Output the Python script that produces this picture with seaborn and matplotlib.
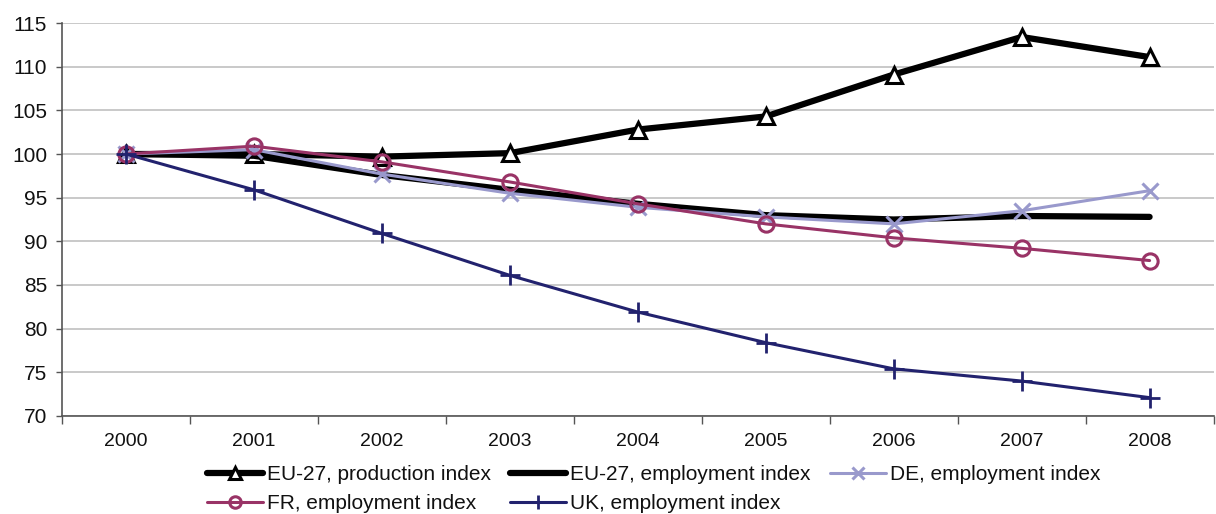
import matplotlib
matplotlib.use("Agg")
import matplotlib.pyplot as plt
import seaborn as sns
import pandas as pd
from matplotlib.ticker import FixedLocator, NullFormatter

years = ["2000", "2001", "2002", "2003", "2004", "2005", "2006", "2007", "2008"]
eu27_production = [100.0, 100.0, 99.7, 100.1, 102.8, 104.3, 109.1, 113.4, 111.1]
eu27_employment = [100.0, 99.8, 97.6, 95.9, 94.3, 93.0, 92.5, 92.9, 92.8]
de_employment = [100.0, 100.5, 97.7, 95.5, 93.9, 92.8, 92.0, 93.5, 95.8]
fr_employment = [100.0, 100.9, 99.1, 96.8, 94.3, 92.0, 90.4, 89.2, 87.8]
uk_employment = [100.0, 95.9, 90.9, 86.1, 81.9, 78.4, 75.4, 74.0, 72.1]

labels = [
    "EU-27, production index",
    "EU-27, employment index",
    "DE, employment index",
    "FR, employment index",
    "UK, employment index",
]

sns.set_theme(style="white")
plt.rcParams["font.family"] = ["Liberation Sans", "DejaVu Sans"]

fig = plt.figure(figsize=(12.16, 5.14), dpi=100)
ax = fig.add_axes([0.051, 0.1907, 0.947, 0.7645])

pos = list(range(len(years)))
series = [
    (labels[0], eu27_production, dict(color="black", lw=4.5, marker="^", ms=11,
                                       mfc="white", mec="black", mew=2.2)),
    (labels[1], eu27_employment, dict(color="black", lw=4.5, marker=None)),
    (labels[2], de_employment, dict(color="#9999CC", lw=2.2, marker="x", ms=11,
                                    mec="#9999CC", mew=2.2)),
    (labels[3], fr_employment, dict(color="#993366", lw=2.2, marker="o", ms=11,
                                    mfc="none", mec="#993366", mew=2.2)),
    (labels[4], uk_employment, dict(color="#22226E", lw=2.2, marker="+", ms=14,
                                    mec="#22226E", mew=2.0)),
]

for name, vals, st in series:
    df = pd.DataFrame({"x": pos, "y": vals})
    kw = dict(color=st["color"], linewidth=st["lw"], solid_capstyle="round")
    if st.get("marker"):
        kw.update(marker=st["marker"], markersize=st["ms"],
                  markeredgecolor=st["mec"], markeredgewidth=st["mew"])
        if "mfc" in st:
            kw["markerfacecolor"] = st["mfc"]
    sns.lineplot(data=df, x="x", y="y", ax=ax, label=name, **kw)

ax.set_xlim(-0.5, len(years) - 0.5)
ax.set_ylim(70, 115)
ax.set_yticks(range(70, 116, 5))
ax.yaxis.grid(True, color="#C0C0C0", linewidth=1.2)
ax.xaxis.grid(False)

ax.set_xticks(pos)
ax.set_xticklabels(years)
ax.xaxis.set_minor_locator(FixedLocator([p - 0.5 for p in pos] + [len(years) - 0.5]))
ax.xaxis.set_minor_formatter(NullFormatter())
ax.tick_params(axis="x", which="major", length=0, labelsize=14, pad=12,
               labelcolor="#111111")
ax.tick_params(axis="x", which="minor", length=6, width=1, color="#555555",
               direction="out", bottom=True)
ax.tick_params(axis="y", length=4.3, width=1, color="#555555", direction="out",
               left=True, labelsize=15, pad=6.5, labelcolor="#111111")
ax.set_xlabel("")
ax.set_ylabel("")

for side in ["top", "right"]:
    ax.spines[side].set_visible(False)
for side in ["left", "bottom"]:
    ax.spines[side].set_color("#555555")
    ax.spines[side].set_linewidth(1.2)

h, l = ax.get_legend_handles_labels()
lookup = dict(zip(l, h))
order = [labels[0], labels[3], labels[1], labels[4], labels[2]]
leg = ax.legend([lookup[k] for k in order], order, ncol=3, loc="upper left",
                bbox_to_anchor=(0.170, 0.0953), bbox_transform=fig.transFigure,
                frameon=False, fontsize=15, handlelength=2.7, markerscale=0.75,
                handletextpad=0.2, columnspacing=0.9, labelspacing=0.48,
                borderaxespad=0, borderpad=0)
for t in leg.get_texts():
    t.set_color("#111111")

fig.savefig("out.png", dpi=100)
